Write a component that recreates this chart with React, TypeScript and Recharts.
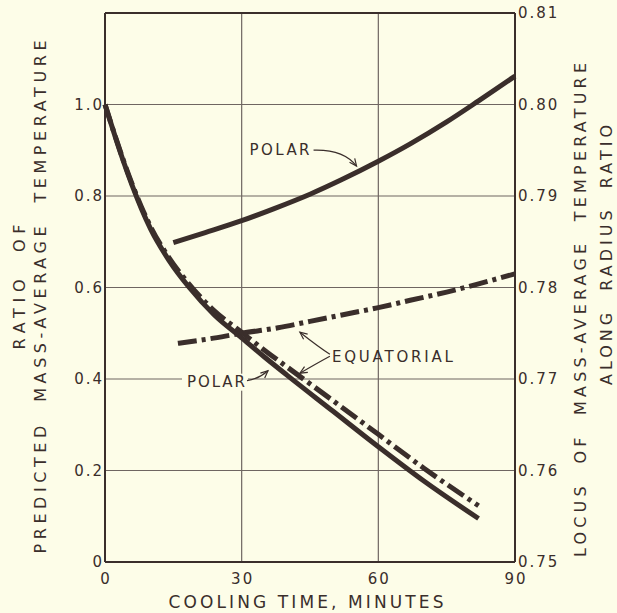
import { CartesianGrid, Line, LineChart, ReferenceDot, ReferenceLine, XAxis, YAxis } from "recharts";

const INK = "#3a2e2b";
const GRID = "#6f6661";
const PAPER = "#fdfde8";
const FONT = "'DejaVu Sans', sans-serif";

// cooling time, minutes (left-axis curves)
const ratioTimes = [0, 2, 4, 6, 8, 10, 14, 18.5, 24, 30, 35, 40, 50, 60, 70, 82];
// ratio of predicted mass-average temperature
const polarRatio = [1.0, 0.937, 0.877, 0.822, 0.772, 0.728, 0.66, 0.6, 0.54, 0.49, 0.448, 0.408, 0.33, 0.252, 0.177, 0.095];
const equatorialRatio = [1.0, 0.938, 0.879, 0.825, 0.776, 0.733, 0.666, 0.607, 0.549, 0.502, 0.463, 0.426, 0.353, 0.279, 0.205, 0.123];

// locus of mass-average temperature along radius ratio (right axis)
const polarLocusTimes = [15, 22, 30, 37, 45, 52, 60, 67, 75, 82, 90];
const polarLocus = [0.7849, 0.786, 0.7873, 0.7886, 0.7902, 0.7918, 0.7938, 0.7957, 0.7981, 0.8004, 0.8031];
const equatorialLocusTimes = [16, 23, 30, 38, 45, 52, 60, 67, 75, 82, 90];
const equatorialLocus = [0.7739, 0.7744, 0.775, 0.7756, 0.7763, 0.777, 0.7778, 0.7786, 0.7795, 0.7804, 0.7815];

const timeTicks = [0, 30, 60, 90];
const ratioTicks = [0, 0.2, 0.4, 0.6, 0.8, 1.0];
const locusTicks = [0.75, 0.76, 0.77, 0.78, 0.79, 0.8, 0.81];

const polarRatioData = ratioTimes.map((t, i) => ({ t, ratio: polarRatio[i] }));
const equatorialRatioData = ratioTimes.map((t, i) => ({ t, ratio: equatorialRatio[i] }));
const polarLocusData = polarLocusTimes.map((t, i) => ({ t, locus: polarLocus[i] }));
const equatorialLocusData = equatorialLocusTimes.map((t, i) => ({ t, locus: equatorialLocus[i] }));

const DASH_DOT = "19 5 4 5";

const textStyle = { fill: INK, fontFamily: FONT };

function TimeTick({ x, y, payload }: any) {
  return (
    <text x={x + 1} y={y} dy={22} textAnchor="middle" fontSize={15} letterSpacing={2} {...textStyle}>
      {payload.value}
    </text>
  );
}

function RatioTick({ x, y, payload }: any) {
  const v = payload.value as number;
  return (
    <text x={x + 2} y={y} dy="0.36em" textAnchor="end" fontSize={15} letterSpacing={2} {...textStyle}>
      {v === 0 ? "0" : v.toFixed(1)}
    </text>
  );
}

function LocusTick({ x, y, payload }: any) {
  return (
    <text x={x} y={y} dy="0.36em" textAnchor="start" fontSize={15} letterSpacing={2} {...textStyle}>
      {(payload.value as number).toFixed(2)}
    </text>
  );
}

function vertical(text: string, x: number, cy: number, length: number, key: string) {
  return (
    <text
      key={key}
      x={x}
      y={cy}
      transform={`rotate(-90 ${x} ${cy})`}
      textAnchor="middle"
      fontSize={16}
      textLength={length}
      lengthAdjust="spacing"
      {...textStyle}
    >
      {text}
    </text>
  );
}

const NB = "\u00a0\u00a0";

function LeftTitle({ viewBox }: any) {
  const { x } = viewBox;
  return (
    <g>
      {vertical(`RATIO${NB}OF`, x + 25, 287, 125, "a")}
      {vertical(`PREDICTED${NB}MASS-AVERAGE${NB}TEMPERATURE`, x + 46, 297, 513, "b")}
    </g>
  );
}

function RightTitle({ viewBox }: any) {
  const { x } = viewBox;
  return (
    <g>
      {vertical(`LOCUS${NB}OF${NB}MASS-AVERAGE${NB}TEMPERATURE`, x + 71, 310, 494, "a")}
      {vertical(`ALONG${NB}RADIUS${NB}RATIO`, x + 97, 255, 260, "b")}
    </g>
  );
}

function BottomTitle({ viewBox }: any) {
  const { x, y, width } = viewBox;
  return (
    <text
      x={x + width / 2 - 4}
      y={y + 46}
      textAnchor="middle"
      fontSize={17}
      textLength={275}
      lengthAdjust="spacing"
      {...textStyle}
    >
      COOLING TIME, MINUTES
    </text>
  );
}

function arrowHead(tx: number, ty: number, fx: number, fy: number, len = 8, spread = 0.42) {
  const a = Math.atan2(ty - fy, tx - fx);
  const x1 = tx - len * Math.cos(a - spread);
  const y1 = ty - len * Math.sin(a - spread);
  const x2 = tx - len * Math.cos(a + spread);
  const y2 = ty - len * Math.sin(a + spread);
  return `M${x1},${y1} L${tx},${ty} L${x2},${y2}`;
}

function noteText(label: string, x: number, y: number, length: number) {
  return (
    <text x={x} y={y} fontSize={15} textLength={length} lengthAdjust="spacing" {...textStyle}>
      {label}
    </text>
  );
}

const arrowStyle = { fill: "none", stroke: INK, strokeWidth: 1.2 };

// label above the rising polar curve
function PolarUpperNote({ cx, cy }: any) {
  return (
    <g>
      {noteText("POLAR", cx - 106, cy - 18, 60)}
      <path d={`M${cx - 42},${cy - 23} Q${cx - 12},${cy - 24} ${cx + 1},${cy - 7}`} {...arrowStyle} />
      <path d={arrowHead(cx + 1, cy - 7, cx - 12, cy - 24)} {...arrowStyle} />
    </g>
  );
}

// label beside the falling polar curve, masking the grid line behind it
function PolarLowerNote({ cx, cy }: any) {
  return (
    <g>
      <rect x={cx - 87} y={cy + 13} width={66} height={17} fill={PAPER} />
      {noteText("POLAR", cx - 82, cy + 26, 58)}
      <path d={`M${cx - 22},${cy + 20} Q${cx - 10},${cy + 18} ${cx - 1},${cy + 10}`} {...arrowStyle} />
      <path d={arrowHead(cx - 1, cy + 10, cx - 10, cy + 18)} {...arrowStyle} />
    </g>
  );
}

// one label pointing at both equatorial curves
function EquatorialNote({ cx, cy }: any) {
  return (
    <g>
      {noteText("EQUATORIAL", cx + 31, cy + 39, 121)}
      <path d={`M${cx + 29},${cy + 31} Q${cx + 18},${cy + 24} ${cx - 1},${cy + 9}`} {...arrowStyle} />
      <path d={arrowHead(cx - 1, cy + 9, cx + 18, cy + 24)} {...arrowStyle} />
      <path d={`M${cx + 29},${cy + 33} Q${cx + 16},${cy + 40} ${cx - 1},${cy + 50}`} {...arrowStyle} />
      <path d={arrowHead(cx - 1, cy + 50, cx + 16, cy + 40)} {...arrowStyle} />
    </g>
  );
}

export default function App() {
  return (
    <div style={{ position: "absolute", left: 0, top: 0, width: 617, height: 613, background: PAPER }}>
      <LineChart width={617} height={613} margin={{ top: 13, right: 0, bottom: 0, left: 0 }}>
        <CartesianGrid yAxisId="ratio" stroke={GRID} strokeWidth={1.2} />

        <XAxis
          type="number"
          dataKey="t"
          domain={[0, 90]}
          ticks={timeTicks}
          interval={0}
          height={51}
          tickLine={false}
          tickSize={0}
          tickMargin={0}
          axisLine={{ stroke: INK, strokeWidth: 2 }}
          tick={TimeTick}
          label={{ content: BottomTitle }}
        />
        <YAxis
          yAxisId="ratio"
          type="number"
          domain={[0, 1.2]}
          ticks={ratioTicks}
          interval={0}
          width={105}
          tickLine={false}
          tickSize={0}
          tickMargin={3}
          axisLine={{ stroke: INK, strokeWidth: 2 }}
          tick={RatioTick}
          label={{ content: LeftTitle }}
        />
        <YAxis
          yAxisId="locus"
          orientation="right"
          type="number"
          domain={[0.75, 0.81]}
          ticks={locusTicks}
          interval={0}
          width={102}
          tickLine={false}
          tickSize={0}
          tickMargin={3}
          axisLine={{ stroke: INK, strokeWidth: 2 }}
          tick={LocusTick}
          label={{ content: RightTitle }}
        />

        <ReferenceLine yAxisId="ratio" y={1.2} stroke={INK} strokeWidth={2} />

        <Line
          yAxisId="ratio"
          data={polarRatioData}
          dataKey="ratio"
          type="monotone"
          stroke={INK}
          strokeWidth={5}
          dot={false}
          activeDot={false}
          isAnimationActive={false}
        />
        <Line
          yAxisId="ratio"
          data={equatorialRatioData}
          dataKey="ratio"
          type="monotone"
          stroke={INK}
          strokeWidth={5}
          strokeDasharray={DASH_DOT}
          dot={false}
          activeDot={false}
          isAnimationActive={false}
        />
        <Line
          yAxisId="locus"
          data={polarLocusData}
          dataKey="locus"
          type="monotone"
          stroke={INK}
          strokeWidth={5}
          dot={false}
          activeDot={false}
          isAnimationActive={false}
        />
        <Line
          yAxisId="locus"
          data={equatorialLocusData}
          dataKey="locus"
          type="monotone"
          stroke={INK}
          strokeWidth={5}
          strokeDasharray={DASH_DOT}
          dot={false}
          activeDot={false}
          isAnimationActive={false}
        />

        <ReferenceDot yAxisId="locus" x={55} y={0.7925} shape={PolarUpperNote} />
        <ReferenceDot yAxisId="ratio" x={36} y={0.44} shape={PolarLowerNote} />
        <ReferenceDot yAxisId="locus" x={43} y={0.7761} shape={EquatorialNote} />
      </LineChart>
    </div>
  );
}
